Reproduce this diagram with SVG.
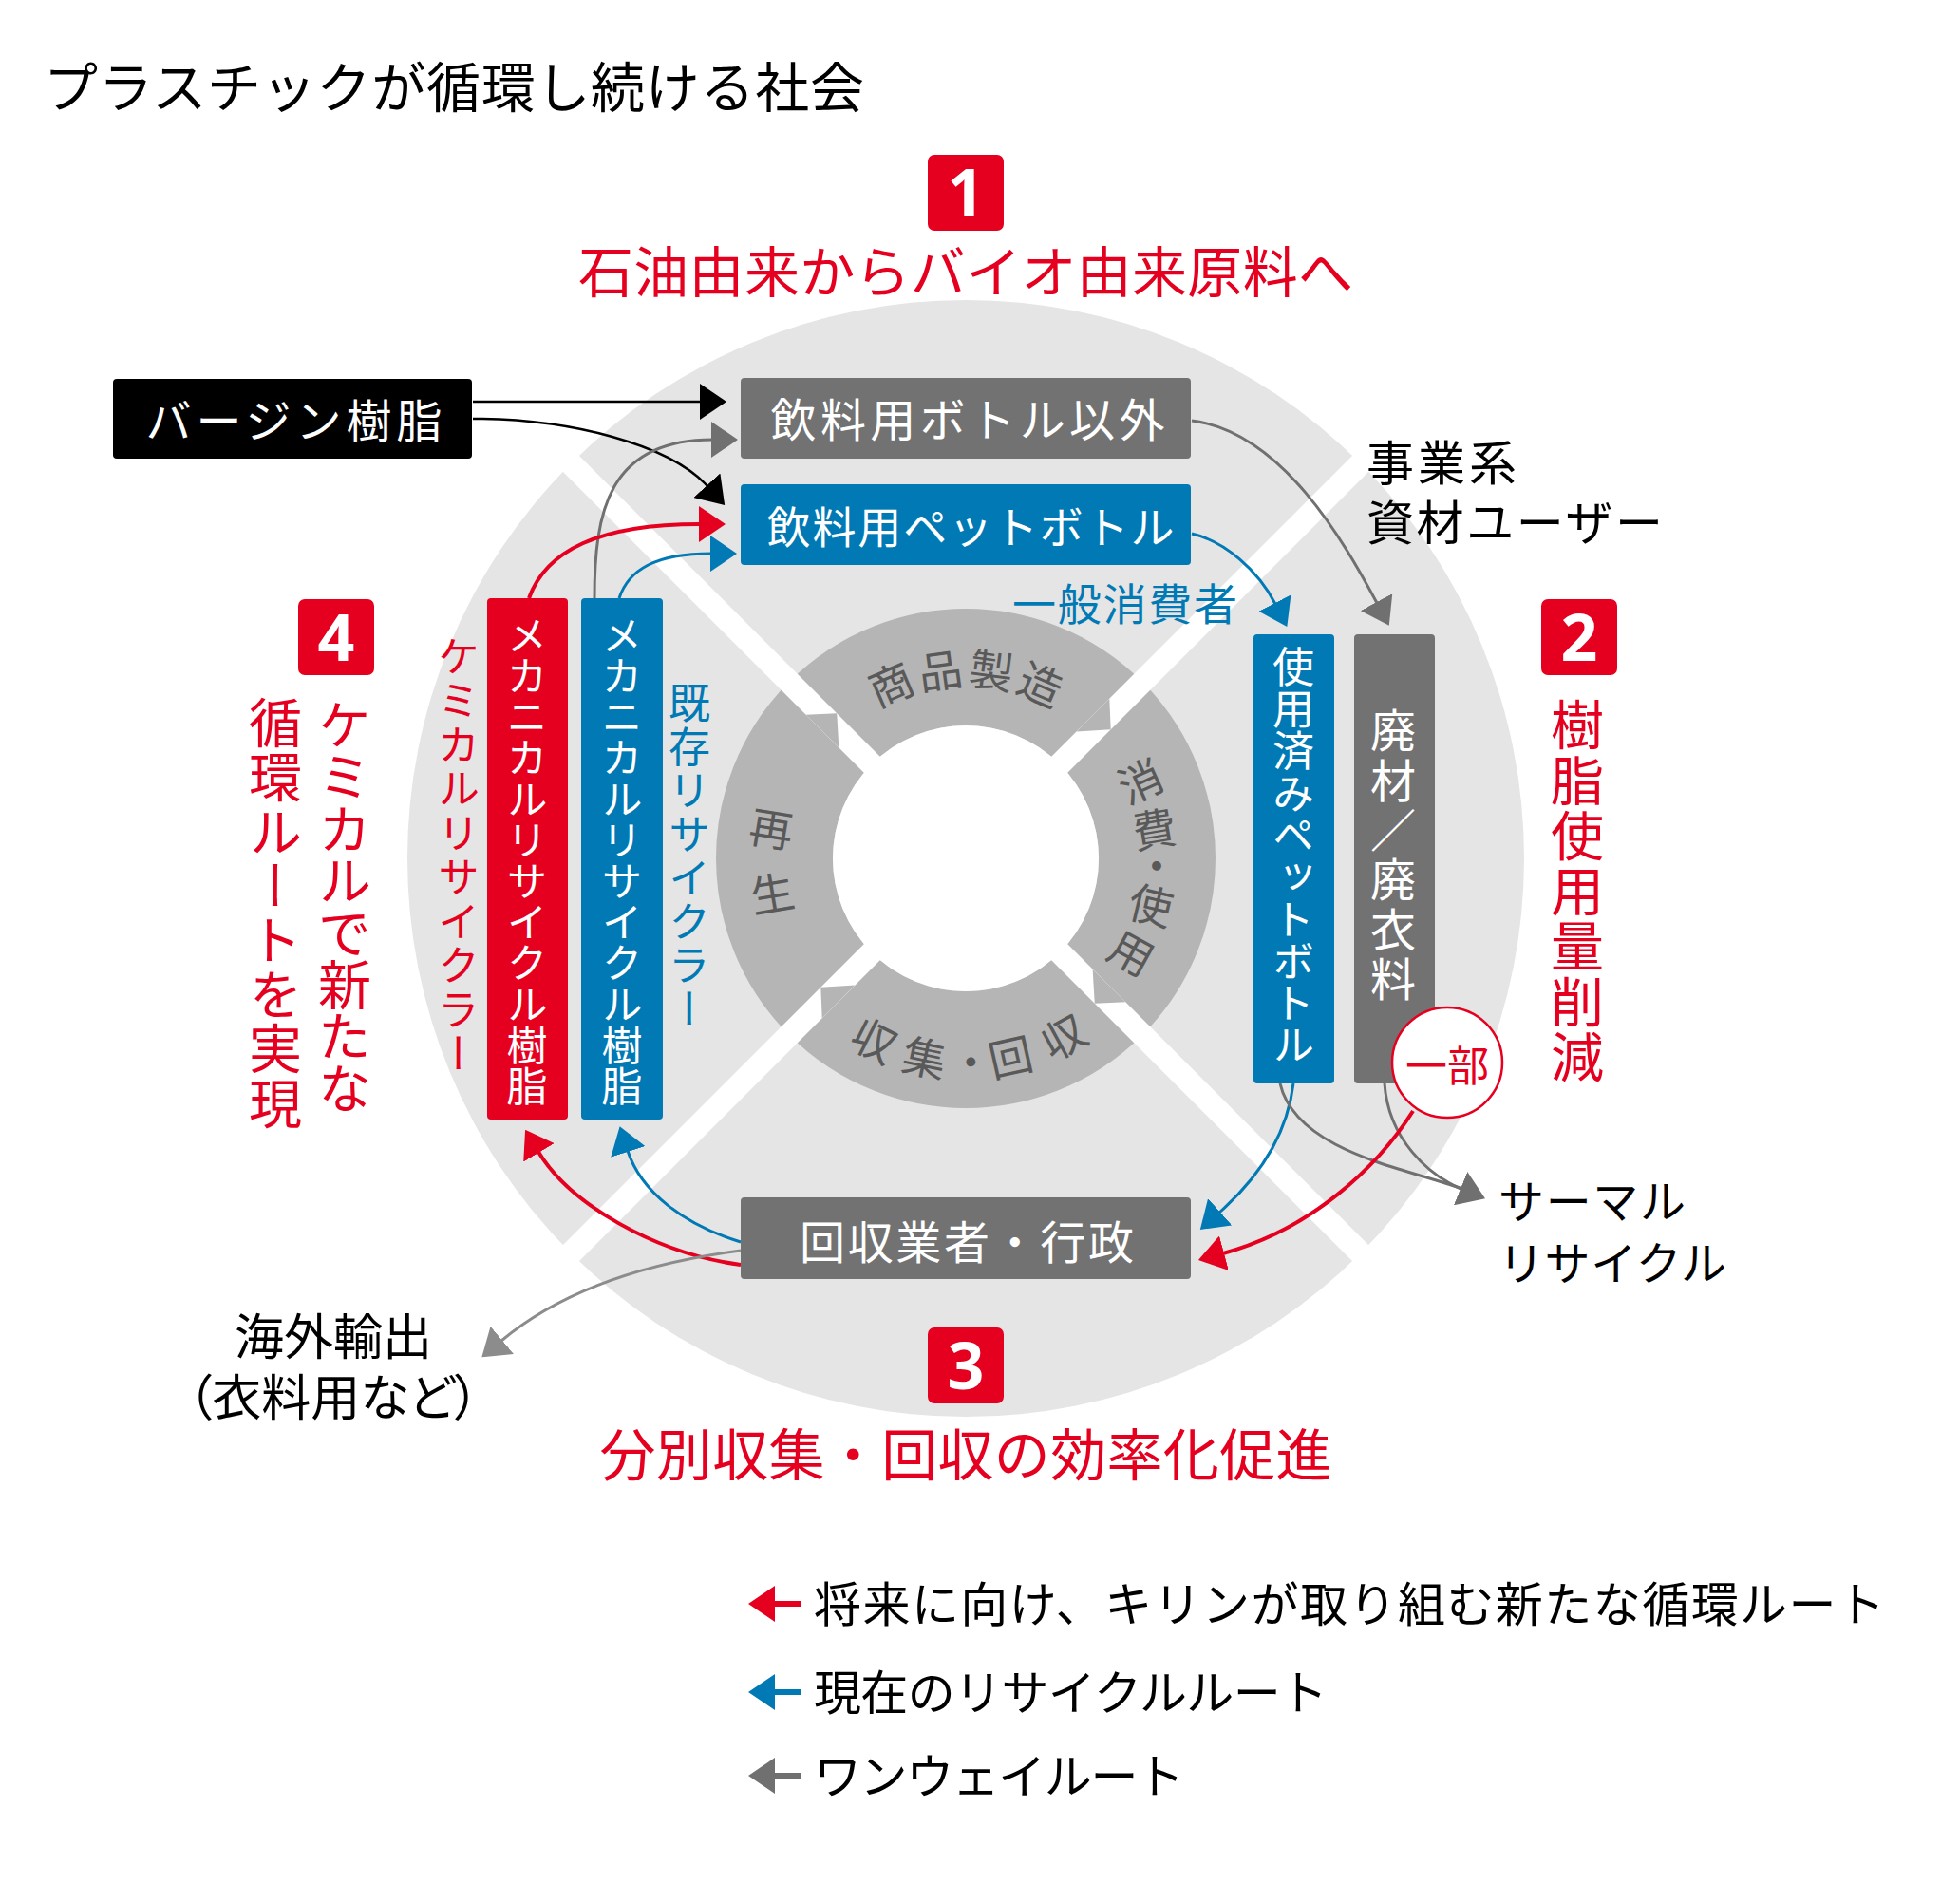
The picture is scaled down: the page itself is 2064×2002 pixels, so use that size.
<svg xmlns="http://www.w3.org/2000/svg" width="2064" height="2002" viewBox="0 0 2064 2002">
<defs>
<style>
text{font-family:"Noto Sans CJK JP","Noto Sans CJK SC",sans-serif;}
.v{writing-mode:vertical-rl;}
.c{text-anchor:middle;dominant-baseline:central;}
.m{dominant-baseline:central;}
.w{fill:#fff;}
.red{fill:#E60020;}
.blu{fill:#0079B4;}
.blk{fill:#000;}
.ring{fill:#595959;font-size:46px;}
.num{font-family:"Noto Sans","Liberation Sans",sans-serif;font-weight:700;font-size:68px;fill:#fff;text-anchor:middle;}
.badge{fill:#E60020;}
.ln{fill:none;}
</style>
<marker id="aBlk" viewBox="0 0 28 38" refX="1" refY="19" markerWidth="28" markerHeight="38" markerUnits="userSpaceOnUse" orient="auto"><path d="M0,0L28,19L0,38z" fill="#000"/></marker>
<marker id="aRed" viewBox="0 0 28 38" refX="1" refY="19" markerWidth="28" markerHeight="38" markerUnits="userSpaceOnUse" orient="auto"><path d="M0,0L28,19L0,38z" fill="#E60020"/></marker>
<marker id="aBlu" viewBox="0 0 28 38" refX="1" refY="19" markerWidth="28" markerHeight="38" markerUnits="userSpaceOnUse" orient="auto"><path d="M0,0L28,19L0,38z" fill="#0079B4"/></marker>
<marker id="aGry" viewBox="0 0 28 38" refX="1" refY="19" markerWidth="28" markerHeight="38" markerUnits="userSpaceOnUse" orient="auto"><path d="M0,0L28,19L0,38z" fill="#707070"/></marker>
<marker id="aGry2" viewBox="0 0 28 38" refX="1" refY="19" markerWidth="28" markerHeight="38" markerUnits="userSpaceOnUse" orient="auto"><path d="M0,0L28,19L0,38z" fill="#8c8c8c"/></marker>
<polygon id="tip" points="848.7,752.7 881.2,751.3 883.4,787.3" fill="#B5B5B5"/>
</defs>
<rect width="2064" height="2002" fill="#fff"/>

<text id="title" x="46" y="88" class="m blk" font-size="57" textLength="864">プラスチックが循環し続ける社会</text>

<g id="background">
<circle cx="1017" cy="904" r="588" fill="#E5E5E5"/>
<circle cx="1017" cy="904" r="201.5" fill="none" stroke="#B5B5B5" stroke-width="123"/>
<circle cx="1017" cy="904" r="140" fill="#fff"/>
<rect x="417" y="892" width="1200" height="24" fill="#fff" transform="rotate(45 1017 904)"/>
<rect x="417" y="892" width="1200" height="24" fill="#fff" transform="rotate(-45 1017 904)"/>
<use href="#tip"/>
<use href="#tip" transform="rotate(90 1017 904)"/>
<use href="#tip" transform="rotate(180 1017 904)"/>
<use href="#tip" transform="rotate(270 1017 904)"/>
</g>

<g id="cycle-text">
<text class="ring c" transform="translate(937.3,718.4) rotate(-23.25)">商</text>
<text class="ring c" transform="translate(989.8,703.8) rotate(-7.75)">品</text>
<text class="ring c" transform="translate(1044.2,703.8) rotate(7.75)">製</text>
<text class="ring c" transform="translate(1096.7,718.4) rotate(23.25)">造</text>
<text class="ring c" transform="translate(1199.9,820.6) rotate(-24.5)">消</text>
<text class="ring c" transform="translate(1215.2,870.8) rotate(-9.5)">費</text>
<text class="ring c" transform="translate(1217.9,909.3) rotate(1.5)">・</text>
<text class="ring c" transform="translate(1212.5,950.9) rotate(13.5)">使</text>
<text class="ring c" transform="translate(1192.8,1001.4) rotate(29)">用</text>
<text class="ring c" transform="translate(921.7,1093.4) rotate(26.7)">収</text>
<text class="ring c" transform="translate(974,1111.6) rotate(11.7)">集</text>
<text class="ring c" transform="translate(1022.2,1115.9) rotate(-1.4)">・</text>
<text class="ring c" transform="translate(1063.6,1110.8) rotate(-12.7)">回</text>
<text class="ring c" transform="translate(1119.1,1089.8) rotate(-28.8)">収</text>
<text class="ring c" transform="translate(812.8,870.2) rotate(9.4)">再</text>
<text class="ring c" transform="translate(812.9,938.5) rotate(-9.6)">生</text>
</g>

<g id="connectors">
<path class="ln" d="M498,423H738" stroke="#000" stroke-width="2.5" marker-end="url(#aBlk)"/>
<path class="ln" d="M498,441C600,441 705,468 745,512" stroke="#000" stroke-width="2.5" marker-end="url(#aBlk)"/>
<path class="ln" d="M626,630C626,540 640,463 750,463" stroke="#707070" stroke-width="3" marker-end="url(#aGry)"/>
<path class="ln" d="M557,630C575,580 630,552 737,552" stroke="#E60020" stroke-width="4" marker-end="url(#aRed)"/>
<path class="ln" d="M652,630C662,600 690,583 749,583" stroke="#0079B4" stroke-width="3" marker-end="url(#aBlu)"/>
<path class="ln" d="M1255,443C1350,455 1415,570 1450,635" stroke="#707070" stroke-width="3" marker-end="url(#aGry)"/>
<path class="ln" d="M1255,562C1290,570 1325,601 1343,636" stroke="#0079B4" stroke-width="3" marker-end="url(#aBlu)"/>
<path class="ln" d="M1362,1141C1355,1200 1320,1245 1284,1277" stroke="#0079B4" stroke-width="3" marker-end="url(#aBlu)"/>
<path class="ln" d="M1458,1141C1462,1200 1505,1238 1539,1252" stroke="#707070" stroke-width="3"/>
<path class="ln" d="M1348,1141C1365,1215 1490,1232 1539,1252" stroke="#707070" stroke-width="3" marker-end="url(#aGry)"/>
<path class="ln" d="M1488,1170C1450,1230 1380,1295 1288,1320" stroke="#E60020" stroke-width="4" marker-end="url(#aRed)"/>
<path class="ln" d="M780,1332C690,1320 600,1268 567,1213" stroke="#E60020" stroke-width="4" marker-end="url(#aRed)"/>
<path class="ln" d="M780,1308C720,1290 675,1255 661,1212" stroke="#0079B4" stroke-width="3" marker-end="url(#aBlu)"/>
<path class="ln" d="M780,1317C680,1330 590,1360 528,1412" stroke="#8c8c8c" stroke-width="3" marker-end="url(#aGry2)"/>
</g>

<g id="virgin">
<rect x="119" y="399" width="378" height="84" rx="4" fill="#000"/>
<text x="309.5" y="440" class="c w" font-size="48" textLength="312">バージン樹脂</text>
</g>
<g id="non-bottle">
<rect x="780" y="398" width="474" height="85" rx="4" fill="#727272"/>
<text x="1019" y="439" class="c w" font-size="48" textLength="415">飲料用ボトル以外</text>
</g>
<g id="pet-bottle">
<rect x="780" y="510" width="474" height="85" rx="4" fill="#0079B4"/>
<text x="1022" y="552" class="c w" font-size="46" textLength="429">飲料用ペットボトル</text>
</g>
<g id="mech-red">
<rect x="513" y="630" width="85" height="549" rx="4" fill="#E60020"/>
<text x="555" y="647" class="v w" font-size="43" letter-spacing="0.2">メカニカルリサイクル樹脂</text>
</g>
<g id="mech-blue">
<rect x="612" y="630" width="86" height="549" rx="4" fill="#0079B4"/>
<text x="655" y="647" class="v w" font-size="43" letter-spacing="0.2">メカニカルリサイクル樹脂</text>
</g>
<g id="used-pet">
<rect x="1320" y="668" width="85" height="473" rx="4" fill="#0079B4"/>
<text x="1362" y="680" class="v w" font-size="44" letter-spacing="0.3">使用済みペットボトル</text>
</g>
<g id="waste">
<rect x="1426" y="668" width="85" height="473" rx="4" fill="#727272"/>
<text x="1467" y="745" class="v w" font-size="48" letter-spacing="4.4">廃材／廃衣料</text>
</g>
<g id="collector">
<rect x="780" y="1261" width="474" height="86" rx="4" fill="#727272"/>
<text x="1018" y="1305" class="c w" font-size="48" textLength="352">回収業者・行政</text>
</g>
<g id="partial">
<circle cx="1524" cy="1119" r="58" fill="#fff" stroke="#E60020" stroke-width="2.5"/>
<text x="1524" y="1120" class="c red" font-size="44">一部</text>
</g>

<g id="labels">
<text x="1066" y="633" class="m blu" font-size="46" textLength="237">一般消費者</text>
<text class="m blk" font-size="50"><tspan x="1439" y="484" textLength="158">事業系</tspan><tspan x="1439" y="547" textLength="312">資材ユーザー</tspan></text>
<text class="m blk" font-size="48"><tspan x="1578" y="1262" textLength="197">サーマル</tspan><tspan x="1578" y="1327" textLength="240">リサイクル</tspan></text>
<text class="c blk" font-size="52"><tspan x="351" y="1404">海外輸出</tspan><tspan x="351" y="1468" style="font-feature-settings:'palt'">（衣料用など）</tspan></text>
<text x="483" y="669" class="v red" font-size="44" letter-spacing="2.5">ケミカルリサイクラー</text>
<text x="726" y="718" class="v blu" font-size="44" letter-spacing="2">既存リサイクラー</text>
</g>

<g id="point1">
<rect x="977" y="163" width="80" height="80" rx="7" class="badge"/>
<text x="1017" y="227" class="num">1</text>
<text x="1017" y="283" class="c red" font-size="58" textLength="816">石油由来からバイオ由来原料へ</text>
</g>
<g id="point2">
<rect x="1623" y="631" width="80" height="80" rx="7" class="badge"/>
<text x="1663" y="696" class="num">2</text>
<text x="1661" y="735" class="v red" font-size="56" letter-spacing="2.3">樹脂使用量削減</text>
</g>
<g id="point3">
<rect x="977" y="1398" width="80" height="80" rx="7" class="badge"/>
<text x="1017" y="1463" class="num">3</text>
<text x="1017" y="1528" class="c red" font-size="59" textLength="771">分別収集・回収の効率化促進</text>
</g>
<g id="point4">
<rect x="314" y="631" width="80" height="80" rx="7" class="badge"/>
<text x="354" y="696" class="num">4</text>
<text x="363" y="735" class="v red" font-size="56" letter-spacing="-1.3">ケミカルで新たな</text>
<text x="290" y="733" class="v red" font-size="56" letter-spacing="1.2">循環ルートを実現</text>
</g>

<g id="legend">
<path d="M843,1689H815" stroke="#E60020" stroke-width="6" marker-end="url(#aRed)"/>
<text x="857" y="1686" class="m blk" font-size="50" textLength="1128">将来に向け、キリンが取り組む新たな循環ルート</text>
<path d="M843,1782H815" stroke="#0079B4" stroke-width="6" marker-end="url(#aBlu)"/>
<text x="857" y="1779" class="m blk" font-size="50" textLength="541">現在のリサイクルルート</text>
<path d="M843,1870H815" stroke="#707070" stroke-width="6" marker-end="url(#aGry)"/>
<text x="857" y="1867" class="m blk" font-size="50" textLength="390">ワンウェイルート</text>
</g>
</svg>
